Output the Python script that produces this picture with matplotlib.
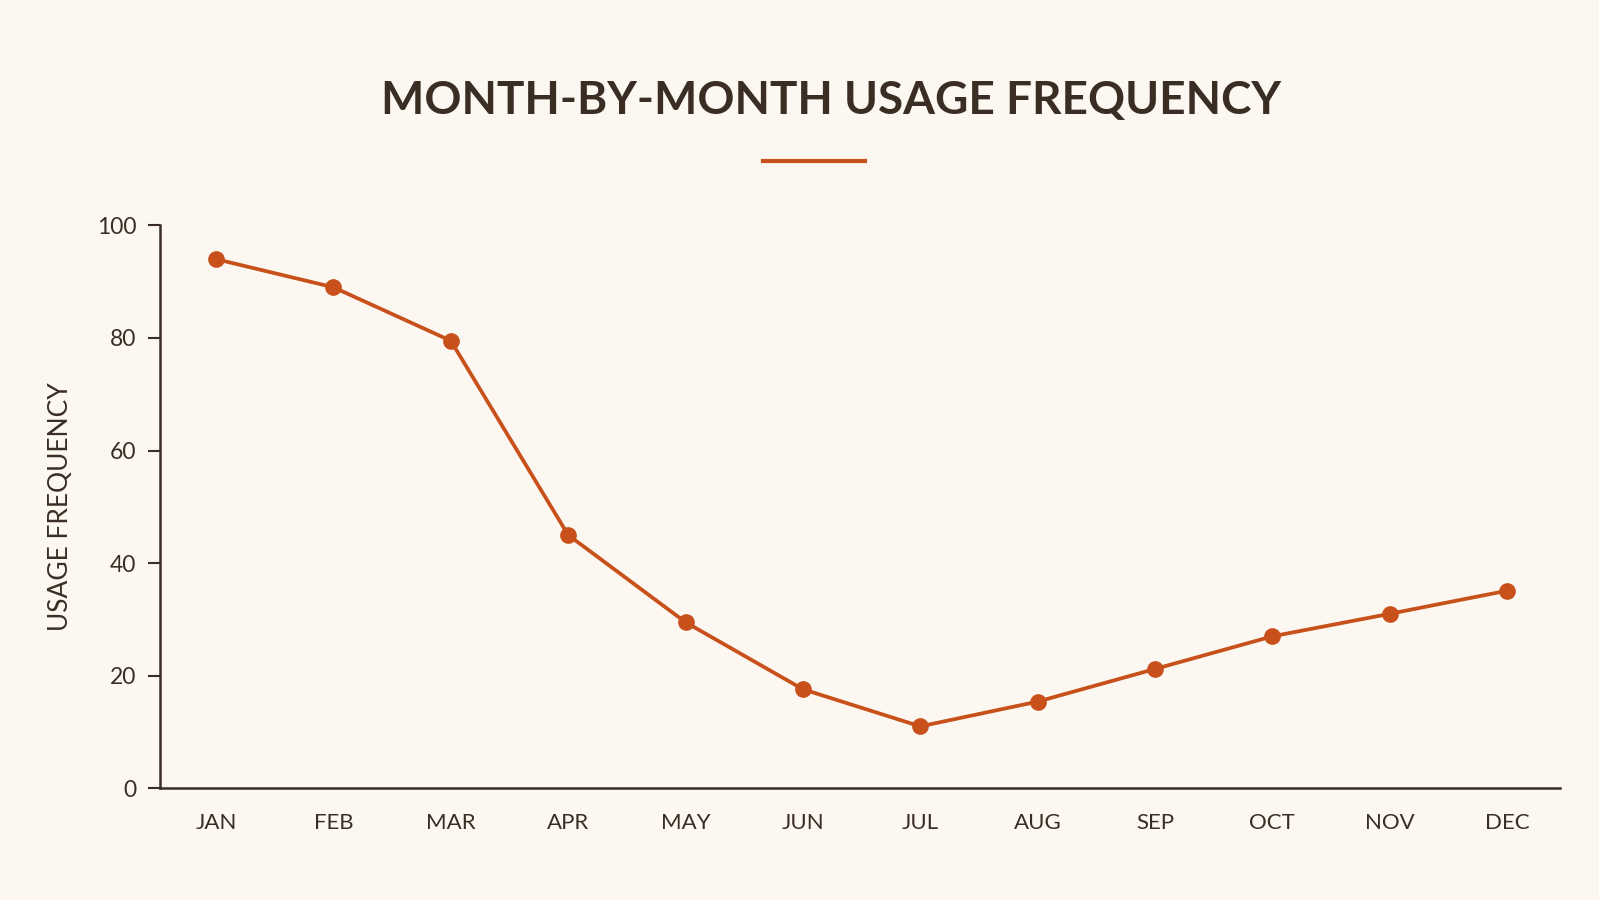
import matplotlib
matplotlib.use("Agg")
import matplotlib.pyplot as plt
from matplotlib.lines import Line2D

months = ["JAN", "FEB", "MAR", "APR", "MAY", "JUN", "JUL", "AUG", "SEP", "OCT", "NOV", "DEC"]
usage = [94, 89, 79.5, 45, 29.5, 17.6, 11, 15.4, 21.2, 27, 31, 35.1]
yticks = [0, 20, 40, 60, 80, 100]

BG = "#FCF8F1"
TXT = "#3A2E24"
ORANGE = "#C8501A"

plt.rcParams['font.family'] = ['Lato', 'DejaVu Sans']

fig = plt.figure(figsize=(15.99, 9.0), dpi=100, facecolor=BG)
ax = fig.add_axes([0.1001, 0.1241, 0.8755, 0.6255])
ax.set_facecolor(BG)

x = list(range(len(months)))
ax.plot(x, usage, color=ORANGE, lw=2.7, marker='o', ms=11, mfc=ORANGE, mec=ORANGE, solid_joinstyle='round')

ax.set_xlim(-0.477, 11.45)
ax.set_ylim(0, 100)
ax.set_xticks(x)
ax.set_xticklabels(months)
ax.set_yticks(yticks)
ax.tick_params(axis='x', length=0, pad=18, labelsize=16, labelcolor=TXT)
ax.tick_params(axis='y', length=9, width=1.5, color=TXT, pad=8, labelsize=16.5, labelcolor=TXT)
for s in ['top', 'right']:
    ax.spines[s].set_visible(False)
for s in ['left', 'bottom']:
    ax.spines[s].set_color(TXT)
    ax.spines[s].set_linewidth(1.8)

ax.set_ylabel("USAGE FREQUENCY", fontsize=19, color=TXT)
ax.yaxis.set_label_coords(-0.0625, 0.5)

fig.text(0.52, 0.888, "MONTH-BY-MONTH USAGE FREQUENCY", ha='center', va='center',
         fontsize=33, fontweight='bold', color=TXT)
fig.add_artist(Line2D([763/1599, 865/1599], [1-161/900, 1-161/900], color=ORANGE, lw=3,
                      transform=fig.transFigure))

fig.savefig("out.png", dpi=100, facecolor=BG)
